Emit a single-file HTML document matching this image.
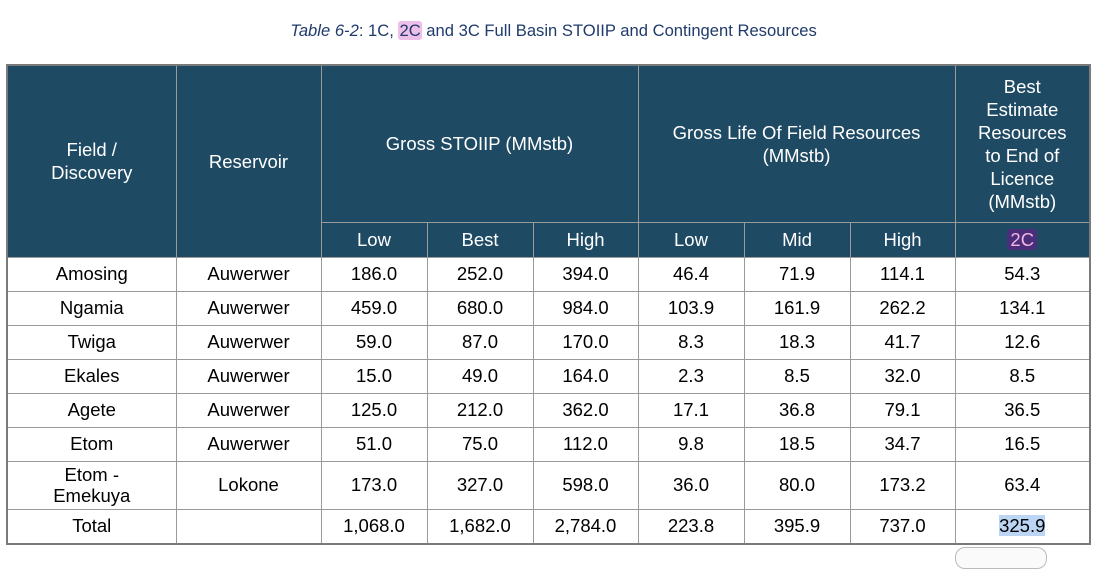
<!DOCTYPE html>
<html><head><meta charset="utf-8"><style>
body{margin:0;width:1107px;height:554px;background:#fff;overflow:hidden;position:relative;font-family:"Liberation Sans",Arial,sans-serif}
#title{position:absolute;left:0;width:1107px;top:21px;text-align:center;font-size:16.6px;color:#1f3a6b}
#title .hl{background:#eebfe9;border-radius:3px;padding:0 1px}
table{position:absolute;left:6px;top:64px;border-collapse:collapse;table-layout:fixed;border:2px solid #7a7a7a}
td,th{border:1px solid #9a9a9a;text-align:center;font-size:18.5px;padding:0;font-weight:normal}
th{background:#1f4a63;color:#fff;line-height:23px}
td{color:#000;height:33px}
.tag{background:#4a2e79;color:#f0b6e6;border-radius:4px;padding:0 3px}
.sel{background:#bcd5f5}
#btn{position:absolute;left:955px;top:547px;width:90px;height:20px;border:1px solid #bbb;border-radius:10px;background:#fafafa}
</style></head><body>
<div id="title"><i>Table 6-2</i>: 1C, <span class="hl">2C</span> and 3C Full Basin STOIIP and Contingent Resources</div>
<table>
<colgroup><col style="width:169px"><col style="width:145px"><col style="width:106px"><col style="width:106px"><col style="width:105px"><col style="width:106px"><col style="width:106px"><col style="width:105px"><col style="width:135px"></colgroup>
<tr style="height:157px">
<th rowspan="2">Field /<br>Discovery</th>
<th rowspan="2">Reservoir</th>
<th colspan="3">Gross STOIIP (MMstb)</th>
<th colspan="3">Gross Life Of Field Resources<br>(MMstb)</th>
<th>Best<br>Estimate<br>Resources<br>to End of<br>Licence<br>(MMstb)</th>
</tr>
<tr style="height:35px">
<th>Low</th><th>Best</th><th>High</th>
<th>Low</th><th>Mid</th><th>High</th>
<th><span class="tag">2C</span></th>
</tr>
<tr><td>Amosing</td><td>Auwerwer</td><td>186.0</td><td>252.0</td><td>394.0</td><td>46.4</td><td>71.9</td><td>114.1</td><td>54.3</td></tr>
<tr><td>Ngamia</td><td>Auwerwer</td><td>459.0</td><td>680.0</td><td>984.0</td><td>103.9</td><td>161.9</td><td>262.2</td><td>134.1</td></tr>
<tr><td>Twiga</td><td>Auwerwer</td><td>59.0</td><td>87.0</td><td>170.0</td><td>8.3</td><td>18.3</td><td>41.7</td><td>12.6</td></tr>
<tr><td>Ekales</td><td>Auwerwer</td><td>15.0</td><td>49.0</td><td>164.0</td><td>2.3</td><td>8.5</td><td>32.0</td><td>8.5</td></tr>
<tr><td>Agete</td><td>Auwerwer</td><td>125.0</td><td>212.0</td><td>362.0</td><td>17.1</td><td>36.8</td><td>79.1</td><td>36.5</td></tr>
<tr><td>Etom</td><td>Auwerwer</td><td>51.0</td><td>75.0</td><td>112.0</td><td>9.8</td><td>18.5</td><td>34.7</td><td>16.5</td></tr>
<tr style="height:48px"><td style="line-height:21px">Etom -<br>Emekuya</td><td>Lokone</td><td>173.0</td><td>327.0</td><td>598.0</td><td>36.0</td><td>80.0</td><td>173.2</td><td>63.4</td></tr>
<tr><td>Total</td><td></td><td>1,068.0</td><td>1,682.0</td><td>2,784.0</td><td>223.8</td><td>395.9</td><td>737.0</td><td><span class="sel">325.9</span></td></tr>
</table>
<div id="btn"></div>
</body></html>
